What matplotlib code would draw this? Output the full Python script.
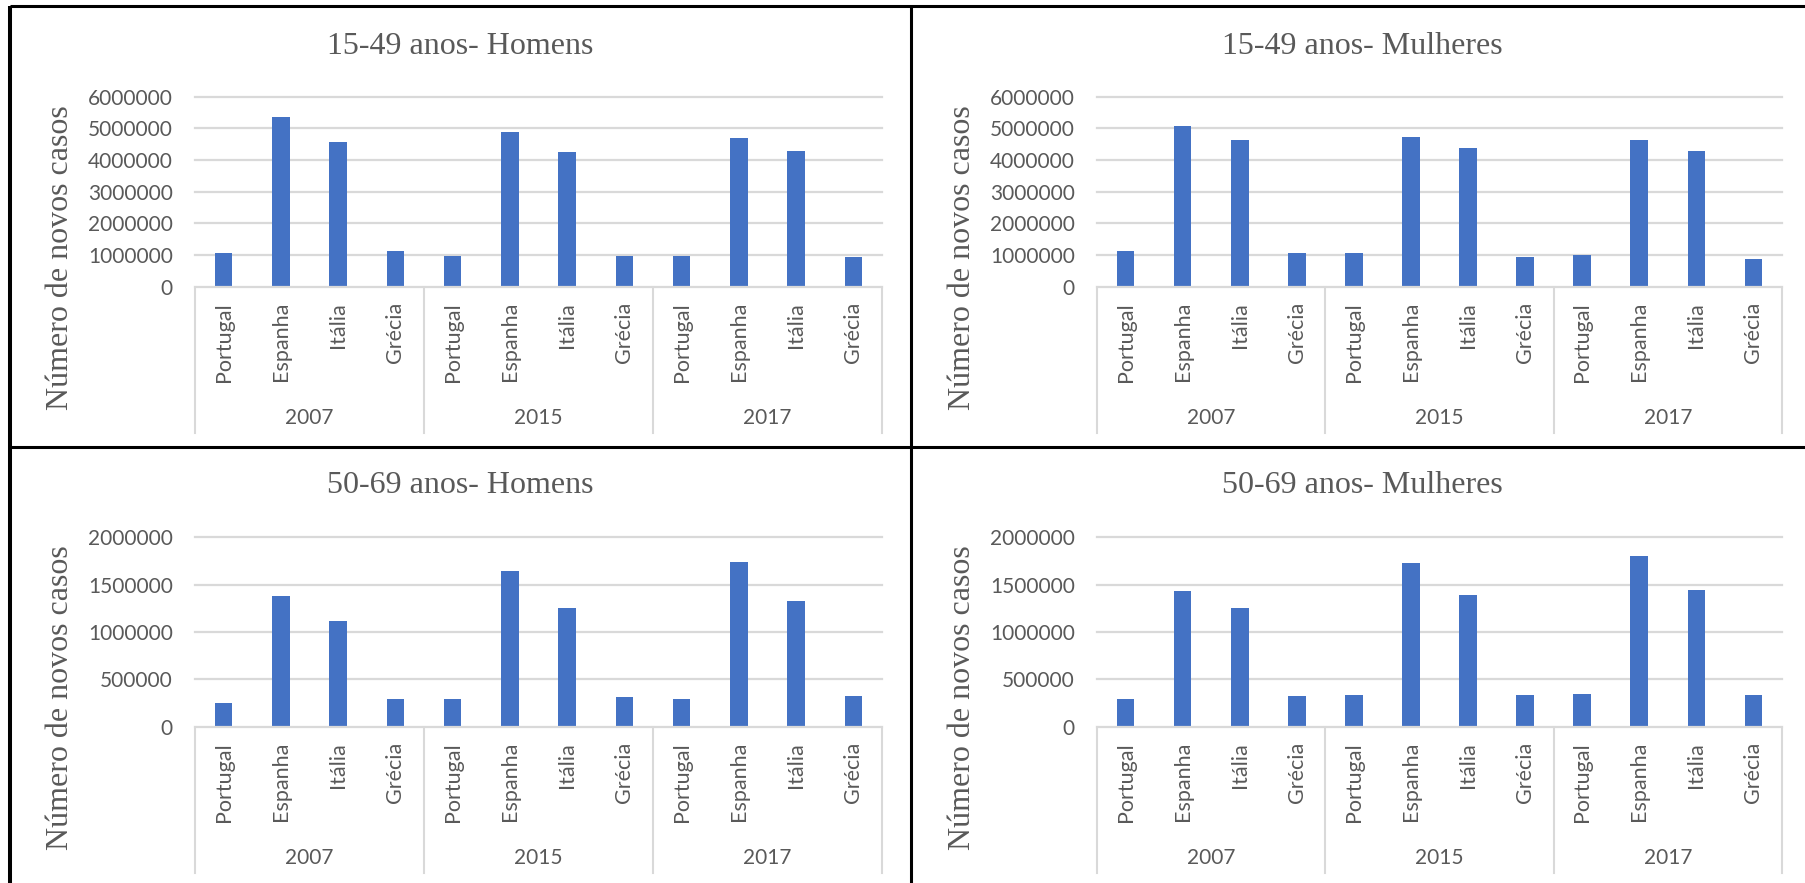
import matplotlib
matplotlib.use("Agg")
import matplotlib.pyplot as plt
from matplotlib.lines import Line2D
from matplotlib.transforms import ScaledTranslation

# ---- data -------------------------------------------------------------
countries = ["Portugal", "Espanha", "Itália", "Grécia"]
years = ["2007", "2015", "2017"]

titles = ["15-49 anos- Homens", "15-49 anos- Mulheres",
          "50-69 anos- Homens", "50-69 anos- Mulheres"]
ylabel = "Número de novos casos"

# values ordered year by year: Portugal, Espanha, Itália, Grécia
homens_15_49 = [1080000, 5350000, 4570000, 1130000,
                970000, 4870000, 4250000, 970000,
                970000, 4710000, 4300000, 930000]
mulheres_15_49 = [1130000, 5070000, 4620000, 1080000,
                  1050000, 4740000, 4380000, 930000,
                  1000000, 4620000, 4300000, 890000]
homens_50_69 = [253000, 1380000, 1120000, 296000,
                296000, 1648000, 1257000, 310000,
                296000, 1743000, 1324000, 324000]
mulheres_50_69 = [296000, 1433000, 1257000, 324000,
                  335000, 1729000, 1391000, 335000,
                  349000, 1800000, 1447000, 335000]

ticks_15_49 = [0, 1000000, 2000000, 3000000, 4000000, 5000000, 6000000]
ticks_50_69 = [0, 500000, 1000000, 1500000, 2000000]

# ---- style ------------------------------------------------------------
W, H, DPI = 1805, 883, 100
BAR = "#4472C4"
GRID = "#d9d9d9"
TXT = "#595959"
SANS = ["Lato", "DejaVu Sans"]
SERIF = ["Liberation Serif", "DejaVu Serif"]
plt.rcParams["font.family"] = SANS

fig = plt.figure(figsize=(W / DPI, H / DPI), dpi=DPI)
fig.patch.set_facecolor("white")


def px_rect(x0, y0, x1, y1):
    return [x0 / W, 1 - y1 / H, (x1 - x0) / W, (y1 - y0) / H]


panels = [
    # (values, ticks, plot box in px, panel origin in px)
    (homens_15_49, ticks_15_49, (195, 96.7, 882, 286.7), (9, 0)),
    (mulheres_15_49, ticks_15_49, (1097, 96.7, 1782, 286.7), (911, 0)),
    (homens_50_69, ticks_50_69, (195, 537.3, 882, 726.7), (9, 440)),
    (mulheres_50_69, ticks_50_69, (1097, 537.3, 1782, 726.7), (911, 440)),
]

labels = countries * len(years)
xs = list(range(len(labels)))

for (vals, ticks, box, origin), title in zip(panels, titles):
    ax = fig.add_axes(px_rect(*box))
    ax.set_xlim(-0.5, len(labels) - 0.5)
    ax.set_ylim(ticks[0], ticks[-1])
    for t in ticks[1:]:
        ax.axhline(t, color=GRID, lw=1.6, zorder=0, clip_on=False)
    ax.bar(xs, vals, width=0.31, color=BAR, zorder=2)

    for s in ["top", "right", "left"]:
        ax.spines[s].set_visible(False)
    ax.spines["bottom"].set_color(GRID)
    ax.spines["bottom"].set_linewidth(1.6)

    ax.set_yticks(ticks)
    ax.set_yticklabels([str(t) for t in ticks], fontsize=15, color=TXT)
    ax.tick_params(axis="y", length=0, pad=16)
    ax.set_xticks(xs)
    ax.set_xticklabels(labels, rotation=90, fontsize=15.5, color=TXT)
    ax.tick_params(axis="x", length=0, pad=11)

    # second category level: year labels and group separators
    n = len(countries)
    below_year = ScaledTranslation(0, -131.3 / DPI, fig.dpi_scale_trans)
    for i, yr in enumerate(years):
        ax.text(i * n + (n - 1) / 2, 0, yr, transform=ax.get_xaxis_transform() + below_year,
                ha="center", va="center", fontsize=15, color=TXT)
    sep_h = 146.3 / (box[3] - box[1])
    for k in range(len(years) + 1):
        ax.add_line(Line2D([k * n - 0.5, k * n - 0.5], [0, -sep_h],
                           transform=ax.get_xaxis_transform(),
                           color=GRID, lw=1.5, clip_on=False))

    ox, oy = origin
    fig.text((ox + 451) / W, 1 - (oy + 46) / H, title, ha="center", va="center",
             fontsize=23, color=TXT, family=SERIF)
    fig.text((ox + 52) / W, 1 - (oy + 258) / H, ylabel, ha="center", va="center",
             rotation=90, fontsize=23, color=TXT, family=SERIF)

# black frame and dividers between the four charts
frame = [
    ([9.5, W], [5.5, 5.5], 2.2),
    ([9.5, 9.5], [5.5, H], 2.9),
    ([911, 911], [5.5, H], 2.2),
    ([9.5, W], [446.7, 446.7], 2.2),
]
for xx, yy, lw in frame:
    fig.add_artist(Line2D([x / W for x in xx], [1 - y / H for y in yy],
                          transform=fig.transFigure, color="black", lw=lw,
                          solid_capstyle="butt"))

fig.savefig("out.png", dpi=DPI, facecolor="white")
